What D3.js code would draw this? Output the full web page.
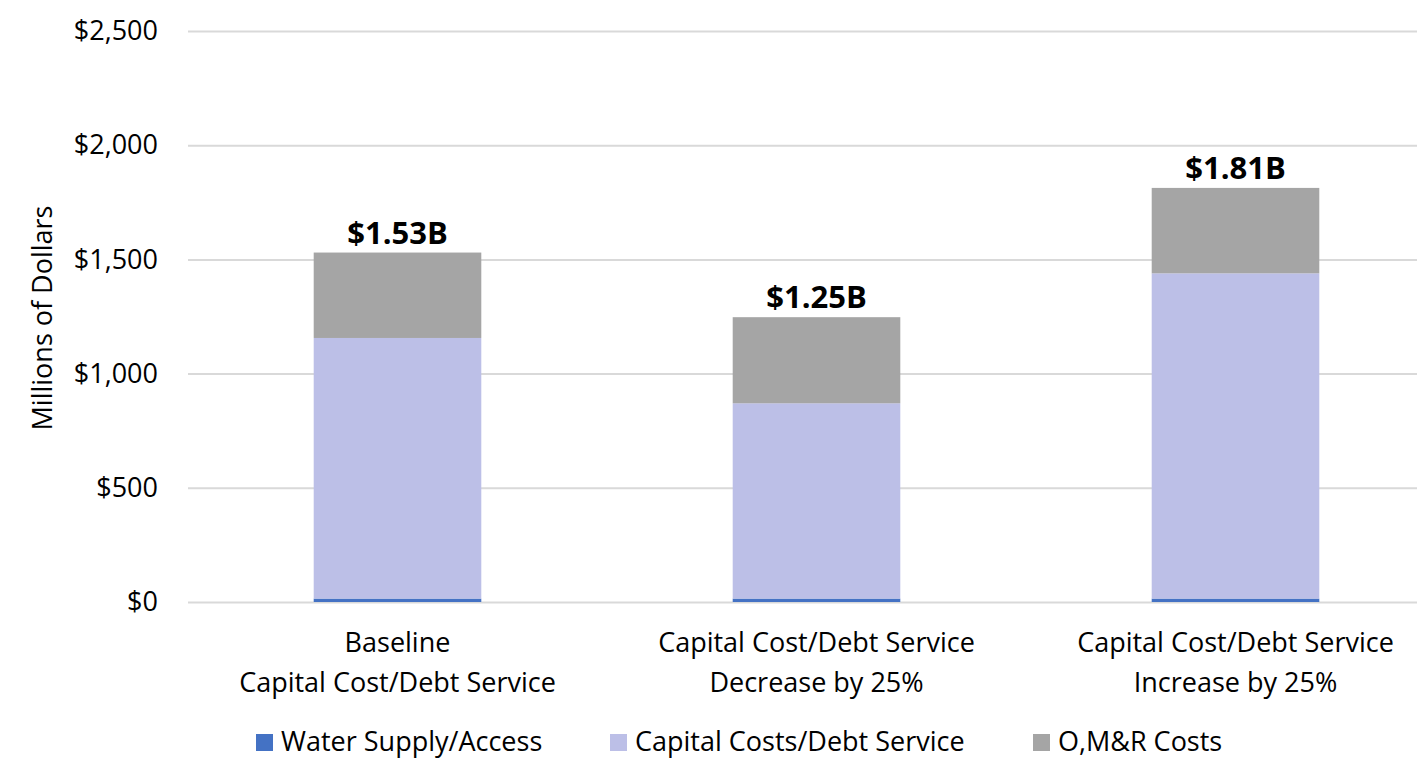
<!DOCTYPE html>
<html>
<head>
<meta charset="utf-8">
<script src="https://cdn.jsdelivr.net/npm/d3@7"></script>
<style>
  body { margin: 0; background: #fff; }
  svg { font-family: "Open Sans", "Liberation Sans", sans-serif; }
</style>
</head>
<body>
<div class="chart-container"></div>
<script>
var categories = [
  ['Baseline', 'Capital Cost/Debt Service'],
  ['Capital Cost/Debt Service', 'Decrease by 25%'],
  ['Capital Cost/Debt Service', 'Increase by 25%']
];
var seriesNames = ['Water Supply/Access', 'Capital Costs/Debt Service', 'O,M&R Costs'];
var waterSupply = [15, 15, 15];
var capitalCosts = [1141, 855, 1424];
var omrCosts = [374, 377, 374];
var totalLabels = ['$1.53B', '$1.25B', '$1.81B'];
var yTicks = [0, 500, 1000, 1500, 2000, 2500];

var colors = ['#4472c4', '#bcbfe7', '#a5a5a5'];

var W = 1417, H = 760;
var margin = {top: 31, left: 188, bottom: 158};
var plotRight = 1445;

var svg = d3.select('.chart-container').append('svg')
  .attr('width', W)
  .attr('height', H);

var x = d3.scaleBand()
  .domain(d3.range(categories.length))
  .range([margin.left, plotRight])
  .paddingInner(0.6)
  .paddingOuter(0.3);

var y = d3.scaleLinear()
  .domain([0, 2500])
  .range([H - margin.bottom, margin.top]);

// gridlines + tick labels
var yAxis = d3.axisLeft(y)
  .tickValues(yTicks)
  .tickSize(-(plotRight - margin.left))
  .tickPadding(30)
  .tickFormat(d => '$' + d3.format(',')(d));

var gY = svg.append('g')
  .attr('transform', `translate(${margin.left},0)`)
  .call(yAxis);
gY.select('.domain').remove();
gY.selectAll('.tick line').style('stroke', '#d9d9d9').style('stroke-width', 2);
gY.selectAll('.tick text')
  .style('font-size', '27px')
  .style('fill', '#000')
  .style('font-family', '"Open Sans", sans-serif');

// stacked data
var rows = categories.map((c, i) => ({
  idx: i,
  water: waterSupply[i],
  capital: capitalCosts[i],
  omr: omrCosts[i]
}));
var stack = d3.stack().keys(['water', 'capital', 'omr']);
var layers = stack(rows);

svg.selectAll('.layer')
  .data(layers)
  .enter().append('g')
    .attr('class', 'layer')
    .style('fill', (d, i) => colors[i])
  .selectAll('rect')
  .data(d => d)
  .enter().append('rect')
    .attr('x', d => x(d.data.idx))
    .attr('width', x.bandwidth())
    .attr('y', d => y(d[1]))
    .attr('height', d => y(d[0]) - y(d[1]));

// total labels
svg.selectAll('.total')
  .data(rows)
  .enter().append('text')
    .attr('class', 'total')
    .attr('x', d => x(d.idx) + x.bandwidth() / 2)
    .attr('y', d => y(d.water + d.capital + d.omr) - 9)
    .attr('text-anchor', 'middle')
    .style('font-size', '31px')
    .style('font-weight', 'bold')
    .text((d, i) => totalLabels[i]);

// category labels
var catG = svg.selectAll('.cat')
  .data(categories)
  .enter().append('text')
    .attr('class', 'cat')
    .attr('text-anchor', 'middle')
    .style('font-size', '27px');
catG.selectAll('tspan')
  .data((d, i) => d.map(s => ({s: s, i: i})))
  .enter().append('tspan')
    .attr('x', d => x(d.i) + x.bandwidth() / 2)
    .attr('y', (d, j) => 652 + j * 40)
    .text(d => d.s);

// y title
svg.append('text')
  .attr('transform', 'translate(52,318) rotate(-90)')
  .attr('text-anchor', 'middle')
  .style('font-size', '27px')
  .text('Millions of Dollars');

// legend
var legendX = [256, 610, 1033];
var lg = svg.selectAll('.legend')
  .data(seriesNames)
  .enter().append('g')
    .attr('class', 'legend')
    .attr('transform', (d, i) => `translate(${legendX[i]},734)`);
lg.append('rect')
  .attr('width', 17)
  .attr('height', 17)
  .style('fill', (d, i) => colors[i]);
lg.append('text')
  .attr('x', 25)
  .attr('y', 17)
  .style('font-size', '27px')
  .text(d => d);
</script>
</body>
</html>
